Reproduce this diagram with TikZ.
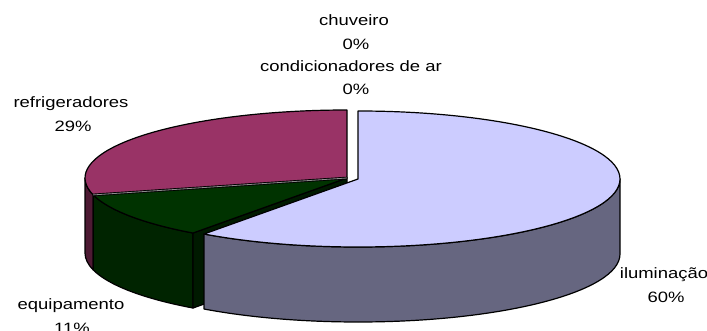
\documentclass[tikz,border=0pt]{standalone}
\usepackage{fontspec}
\setmainfont[FakeStretch=1.23]{Liberation Sans}
\usepackage{tikz}
\usetikzlibrary{calc}
\usepackage{xcolor}
\definecolor{ilumtop}{RGB}{204,204,255}
\definecolor{ilumside}{RGB}{102,102,128}
\definecolor{refrtop}{RGB}{153,51,102}
\definecolor{refrside}{RGB}{77,26,51}
\definecolor{equitop}{RGB}{0,51,0}
\definecolor{equiside}{RGB}{0,36,0}
\definecolor{equicut}{RGB}{0,26,0}

\begin{document}
\begin{tikzpicture}[x=1pt,y=1pt,line width=1.2pt,line join=round,
    rim/.style={x radius=262pt,y radius=68pt},
    lbl/.style={anchor=base,inner sep=0pt,font=\fontsize{15}{18}\selectfont}]
        \useasboundingbox (0,0) rectangle (707,-331);
        \coordinate (C) at (347,-178);
        \coordinate (L) at (358,-179);
        \draw[fill=refrside] ($(C)+(180:262pt and 68pt)$) arc[rim,start angle=180,end angle=194.4] -- ++(0,-75) arc[rim,start angle=194.4,end angle=180] -- cycle;
        \draw[fill=equiside] ($(C)+(194.4:262pt and 68pt)$) arc[rim,start angle=194.4,end angle=234] -- ++(0,-75) arc[rim,start angle=234,end angle=194.4] -- cycle;
        \draw[fill=equicut] (C) -- ($(C)+(234:262pt and 68pt)$) -- ++(0,-75) -- ($(C)+(0,-75)$) -- cycle;
        \draw[fill=refrtop] (C) -- ($(C)+(90:262pt and 68pt)$) arc[rim,start angle=90,end angle=194.4] -- cycle;
        \draw[fill=equitop] (C) -- ($(C)+(194.4:262pt and 68pt)$) arc[rim,start angle=194.4,end angle=234] -- cycle;
        \draw[line width=0.9pt,double=black!45,double distance=0.8pt] (C) -- ($(C)+(194.4:262pt and 68pt)$);
        \draw[fill=ilumside] ($(L)+(234:262pt and 68pt)$) arc[rim,start angle=234,end angle=360] -- ++(0,-75) arc[rim,start angle=360,end angle=234] -- cycle;
        \draw[fill=ilumtop] (L) -- ($(L)+(90:262pt and 68pt)$) arc[rim,start angle=90,end angle=-126] -- cycle;
        \node[lbl] (chuv) at (354,-26) {chuveiro};
        \node[lbl] (chuvp) at (356,-50) {0\%};
        \node[lbl] (cond) at (351,-72) {condicionadores de ar};
        \node[lbl] (condp) at (356,-95) {0\%};
        \node[lbl] (refr) at (71,-108) {refrigeradores};
        \node[lbl] (refrp) at (73,-132) {29\%};
        \node[lbl] (equi) at (71,-309) {equipamento};
        \node[lbl] (equip) at (72,-333) {11\%};
        \node[lbl] (ilum) at (664,-278) {iluminação};
        \node[lbl] (ilump) at (666,-302) {60\%};
    \end{tikzpicture}
\end{document}
